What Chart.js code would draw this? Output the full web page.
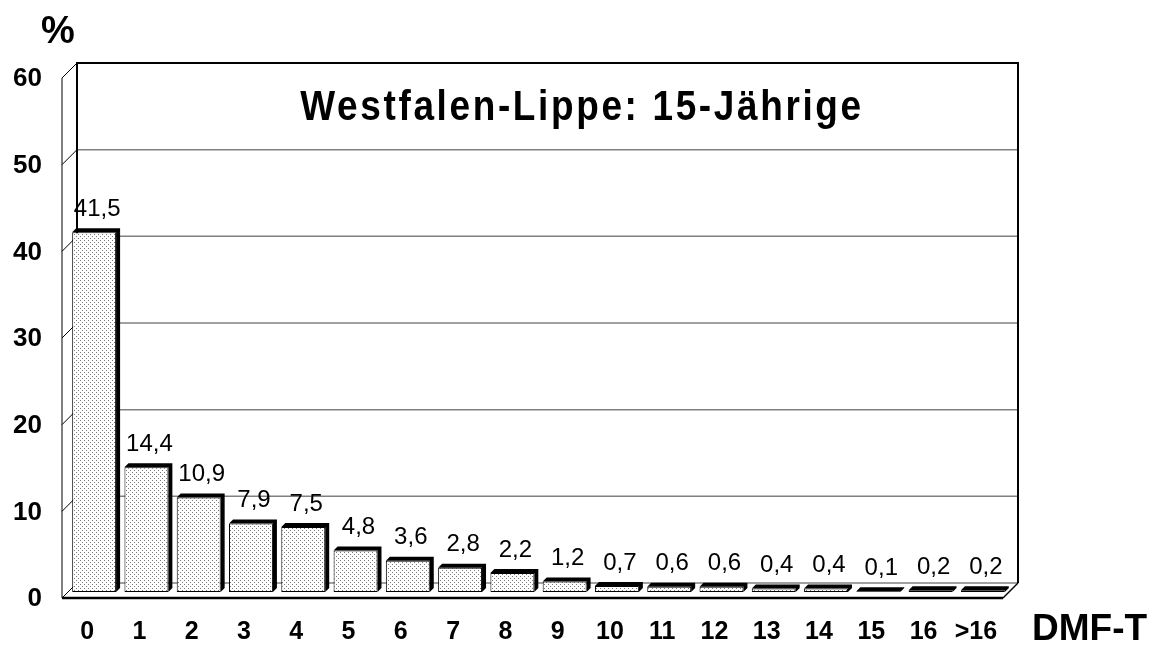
<!DOCTYPE html>
<html lang="de">
<head>
  <meta charset="UTF-8"/>
  <title>Westfalen-Lippe: 15-Jährige</title>
  <script src="https://cdn.jsdelivr.net/npm/chart.js"></script>
  <style>
    html, body { margin: 0; padding: 0; background: #fff; }
    canvas { display: block; }
  </style>
</head>
<body>
  <canvas id="chart" width="1158" height="646"></canvas>

  <script>
    // DMF-T Werte (Kategorien) und Anteile in %
    const categories = ['0', '1', '2', '3', '4', '5', '6', '7', '8', '9', '10', '11', '12', '13', '14', '15', '16', '>16']
    const percentages = [41.5, 14.4, 10.9, 7.9, 7.5, 4.8, 3.6, 2.8, 2.2, 1.2, 0.7, 0.6, 0.6, 0.4, 0.4, 0.1, 0.2, 0.2]
    const yTicks = [0, 10, 20, 30, 40, 50, 60]
    const titleText = 'Westfalen-Lippe: 15-Jährige'

    const FONT = '"Liberation Sans", Arial, sans-serif'
    const BACK = 9    // depth offset to back wall
    const FRONT = 6   // depth offset to front edge
    const BAR_DEPTH = 4

    function dotPattern() {
      const c = document.createElement('canvas')
      c.width = 4; c.height = 4
      const g = c.getContext('2d')
      g.fillStyle = '#fff'
      g.fillRect(0, 0, 4, 4)
      g.fillStyle = '#7a7a7a'
      g.fillRect(0, 0, 1, 1)
      g.fillRect(2, 2, 1, 1)
      return g.createPattern(c, 'repeat')
    }

    // 3D frame: back wall with gridlines, left wall, floor
    const framePlugin = {
      id: 'frame',
      beforeDatasetsDraw(chart) {
        const { ctx, chartArea: a, scales: { y } } = chart
        ctx.save()
        // gridlines on back wall
        ctx.strokeStyle = '#808080'
        ctx.lineWidth = 1.5
        yTicks.forEach(v => {
          const py = y.getPixelForValue(v)
          ctx.beginPath()
          ctx.moveTo(a.left + BACK, py - BACK)
          ctx.lineTo(a.right + BACK, py - BACK)
          ctx.stroke()
        })
        // left wall diagonals
        ctx.strokeStyle = '#000'
        ctx.lineWidth = 1
        yTicks.forEach(v => {
          const py = y.getPixelForValue(v)
          ctx.beginPath()
          ctx.moveTo(a.left - FRONT, py + FRONT)
          ctx.lineTo(a.left + BACK, py - BACK)
          ctx.stroke()
        })
        // left wall front edge
        ctx.beginPath()
        ctx.moveTo(a.left - FRONT, a.top + FRONT)
        ctx.lineTo(a.left - FRONT, a.bottom + FRONT)
        ctx.stroke()
        // back wall outline
        ctx.lineWidth = 2
        ctx.beginPath()
        ctx.moveTo(a.left + BACK, a.bottom - BACK)
        ctx.lineTo(a.left + BACK, a.top - BACK)
        ctx.lineTo(a.right + BACK, a.top - BACK)
        ctx.lineTo(a.right + BACK, a.bottom - BACK)
        ctx.stroke()
        // floor
        ctx.lineWidth = 1.5
        ctx.beginPath()
        ctx.moveTo(a.right + BACK, a.bottom - BACK)
        ctx.lineTo(a.right - FRONT, a.bottom + FRONT)
        ctx.stroke()
        ctx.lineWidth = 2.5
        ctx.beginPath()
        ctx.moveTo(a.left - FRONT, a.bottom + FRONT)
        ctx.lineTo(a.right - FRONT, a.bottom + FRONT)
        ctx.stroke()
        ctx.restore()
      },
      afterDatasetsDraw(chart) {
        const { ctx } = chart
        const meta = chart.getDatasetMeta(0)
        ctx.save()
        // bar tops and sides in black
        ctx.fillStyle = '#000'
        meta.data.forEach(bar => {
          const l = bar.x - bar.width / 2, r = bar.x + bar.width / 2
          const t = bar.y, b = bar.base
          ctx.beginPath()
          ctx.moveTo(l, t)
          ctx.lineTo(l + BAR_DEPTH, t - BAR_DEPTH)
          ctx.lineTo(r + BAR_DEPTH, t - BAR_DEPTH)
          ctx.lineTo(r + BAR_DEPTH, b - BAR_DEPTH)
          ctx.lineTo(r, b)
          ctx.lineTo(r, t)
          ctx.closePath()
          ctx.fill()
        })
        // value labels
        ctx.font = '24px ' + FONT
        ctx.textAlign = 'center'
        ctx.textBaseline = 'middle'
        meta.data.forEach((bar, i) => {
          const txt = percentages[i].toFixed(1).replace('.', ',')
          ctx.fillText(txt, bar.x + 3, bar.y - 23)
        })
        // title inside the plot
        ctx.save()
        ctx.font = 'bold 42px ' + FONT
        ctx.letterSpacing = '3px'
        ctx.textBaseline = 'alphabetic'
        ctx.translate(582, 120)
        ctx.scale(0.88, 1)
        ctx.fillText(titleText, 0, 0)
        ctx.restore()
        // axis captions
        ctx.font = 'bold 38px ' + FONT
        ctx.textAlign = 'center'
        ctx.fillText('%', 58, 33)
        ctx.font = 'bold 37px ' + FONT
        ctx.textAlign = 'left'
        ctx.fillText('DMF-T', 1032, 630)
        ctx.restore()
      }
    }

    new Chart(document.getElementById('chart'), {
      type: 'bar',
      data: {
        labels: categories,
        datasets: [{
          data: percentages,
          backgroundColor: dotPattern(),
          borderColor: '#000',
          borderWidth: 1,
          borderSkipped: false,
          categoryPercentage: 1,
          barPercentage: 0.84
        }]
      },
      options: {
        responsive: false,
        animation: false,
        devicePixelRatio: 1,
        layout: { padding: { left: 0, top: 72, right: 149, bottom: 0 } },
        plugins: { legend: { display: false }, tooltip: { enabled: false } },
        scales: {
          x: {
            grid: { display: false, drawTicks: false },
            border: { display: false },
            afterFit: s => { s.height = 54 },
            ticks: {
              color: '#000',
              font: { family: FONT, size: 25, weight: 'bold' },
              padding: 25,
              labelOffset: -7,
              maxRotation: 0,
              autoSkip: false
            }
          },
          y: {
            min: 0,
            max: 60,
            grid: { display: false, drawTicks: false },
            border: { display: false },
            afterFit: s => { s.width = 68 },
            ticks: {
              stepSize: 10,
              color: '#000',
              font: { family: FONT, size: 26, weight: 'bold' },
              padding: 26,
              labelOffset: 7
            }
          }
        }
      },
      plugins: [framePlugin]
    })
  </script>
</body>
</html>
